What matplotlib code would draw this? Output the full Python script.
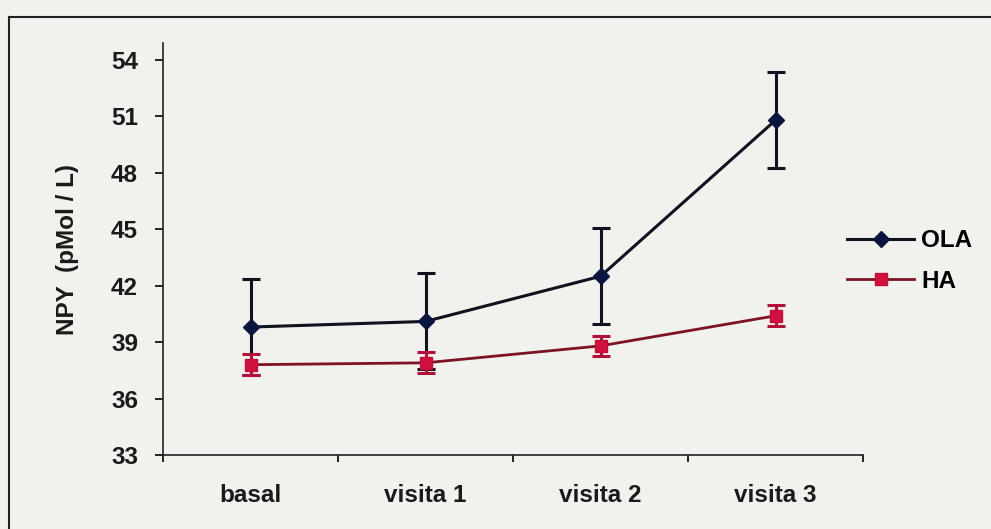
import numpy as np
import matplotlib
matplotlib.use("Agg")
from matplotlib import pyplot as plt
from matplotlib.lines import Line2D

plt.rcParams['font.family'] = ['Liberation Sans', 'DejaVu Sans']
plt.rcParams['font.weight'] = 'bold'
plt.rcParams['axes.labelweight'] = 'bold'

visitas = ["basal", "visita 1", "visita 2", "visita 3"]
ola = [39.8, 40.1, 42.5, 50.8]
ola_err = [2.55, 2.55, 2.55, 2.55]
ha = [37.8, 37.9, 38.8, 40.4]
ha_err = [0.55, 0.55, 0.55, 0.55]
yticks = [33, 36, 39, 42, 45, 48, 51, 54]

bg = "#f1f1ee"
fs = 17.5
fig = plt.figure(figsize=(9.91, 5.29), dpi=100, facecolor=bg)
ax = fig.add_axes([0.1645, 0.1399, 0.7064, 0.7788], facecolor=bg)

x = np.arange(len(visitas))

ax.errorbar(x, ola, yerr=ola_err, color="#10131f", lw=2.2, marker="D", ms=8,
            mfc="#0b1540", mec="#0b1540", ecolor="#10131f", elinewidth=2.2,
            capsize=6.5, capthick=2.2, zorder=3)
ax.errorbar(x, ha, yerr=ha_err, color="#7c1424", lw=2.0, marker="s", ms=9,
            mfc="#d0103f", mec="#c01038", ecolor="#b0103a", elinewidth=2.2,
            capsize=6.5, capthick=2.2, zorder=4)

ax.set_xlim(-0.5, len(visitas) - 0.5)
ax.set_ylim(33, 54.9)
ax.set_yticks(yticks)
ax.set_yticklabels([str(v) for v in yticks], fontsize=fs, color="#1a1a1a")
ax.set_xticks(x)
ax.set_xticklabels(visitas, fontsize=fs, color="#1a1a1a")
ax.set_xticks(np.arange(-0.5, len(visitas)), minor=True)
ax.tick_params(axis="x", which="major", length=0, pad=21)
ax.tick_params(axis="x", which="minor", length=5, width=1.2, direction="out")
ax.tick_params(axis="y", length=6, width=1.2, direction="out", pad=12)

for side in ("top", "right"):
    ax.spines[side].set_visible(False)
for side in ("left", "bottom"):
    ax.spines[side].set_linewidth(1.2)
    ax.spines[side].set_color("#222222")

ax.set_ylabel("NPY  (pMol / L)", fontsize=fs, labelpad=23, color="#1a1a1a")

handles = [
    Line2D([], [], color="#10131f", lw=2.2, marker="D", ms=8, mfc="#0b1540", mec="#0b1540"),
    Line2D([], [], color="#7c1424", lw=2.0, marker="s", ms=9, mfc="#d0103f", mec="#c01038"),
]
fig.legend(handles, ["OLA", "HA"], loc="center left", bbox_to_anchor=(0.855, 0.507),
           frameon=False, fontsize=fs, handlelength=2.75, handletextpad=0.3,
           labelspacing=0.72, borderpad=0, borderaxespad=0)

# frame around the chart
fig.add_artist(Line2D([0.009, 0.009], [0.0, 0.968], color="#222222", lw=1.5,
                      transform=fig.transFigure))
fig.add_artist(Line2D([0.009, 1.0], [0.968, 0.968], color="#222222", lw=1.5,
                      transform=fig.transFigure))

fig.savefig("out.png", dpi=100, facecolor=bg)
